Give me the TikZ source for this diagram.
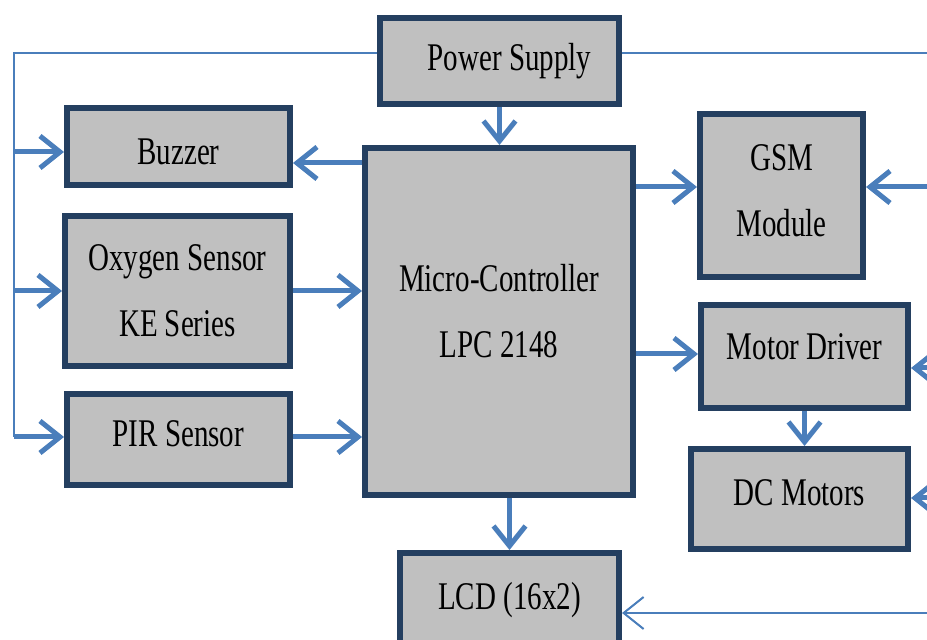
\documentclass[tikz,border=0pt]{standalone}
\usepackage{fontspec}
\setmainfont{Liberation Serif}[FakeStretch=0.74]
\usetikzlibrary{arrows.meta,calc}
\definecolor{Navy}{HTML}{243F60}
\definecolor{Panel}{HTML}{C0C0C0}
\definecolor{Wire}{HTML}{4A7EBB}
\tikzset{
  block/.style={draw=Navy,fill=Panel,line width=3pt,align=center,inner sep=0pt,
    font=\fontsize{19.6}{33}\selectfont},
  feed/.style={Wire,line width=2.5pt,->},
  rail/.style={Wire,line width=1pt},
}
\begin{document}
\begin{tikzpicture}[x=0.5pt,y=-0.5pt,>={Straight Barb[length=10pt,width=16pt]}]
  \useasboundingbox (0,0) rectangle (927,640);
  % blocks
  \node[block,minimum width=119.5pt,minimum height=43pt] (power) at (499.5,61) {\hspace{10pt}Power Supply};
  \node[block,minimum width=111.5pt,minimum height=38.5pt] (buzzer) at (178.5,146.5) {Buzzer\\[-38pt]};
  \node[block,minimum width=112.5pt,minimum height=75pt] (oxygen) at (177.5,291) {Oxygen Sensor\\KE Series};
  \node[block,minimum width=111.5pt,minimum height=45.5pt] (pir) at (178.5,439.5) {PIR Sensor\\[-27pt]};
  \node[block,minimum width=134pt,minimum height=173.5pt] (mcu) at (499,321.5) {Micro-Controller\\LPC 2148\\[-22pt]};
  \node[block,minimum width=81.5pt,minimum height=81.5pt] (gsm) at (781.5,195.5) {GSM\\Module\\[-28pt]};
  \node[block,minimum width=103.5pt,minimum height=51.5pt] (driver) at (804.5,356.5) {Motor Driver\\[-23.5pt]};
  \node[block,minimum width=108.5pt,minimum height=50pt] (motors) at (799.5,499) {DC Motors\\[-27pt]};
  \node[block,minimum width=109.5pt,minimum height=47pt] (lcd) at (509.5,600) {LCD (16x2)};
  % free ends
  \coordinate (busTop) at (14,53);
  \coordinate (busEnd) at (14,437);
  \coordinate (railRight) at (927,53);
  \coordinate (gsmIn) at (927,187);
  \coordinate (drvIn) at (927,368);
  \coordinate (motIn) at (927,498);
  \coordinate (lcdIn) at (927,613);
  % supply rails
  \draw[rail] (power.west |- busTop) -- (busTop) -- (busEnd);
  \draw[rail] (power.east |- railRight) -- (railRight);
  \draw[feed] (busTop |- 0,152) -- (buzzer.west |- 0,152);
  \draw[feed] (busTop |- oxygen.west) -- (oxygen.west);
  \draw[feed] (busEnd) -- (busEnd -| pir.west);
  % signals
  \draw[feed] (power.south) -- (power.south |- mcu.north);
  \draw[feed] (mcu.west |- 0,163) -- (buzzer.east |- 0,163);
  \draw[feed] (oxygen.east) -- (oxygen.east -| mcu.west);
  \draw[feed] (pir.east |- 0,437) -- (mcu.west |- 0,437);
  \draw[feed] (mcu.east |- 0,187) -- (gsm.west |- 0,187);
  \draw[feed] (gsmIn) -- (gsmIn -| gsm.east);
  \draw[feed] (mcu.east |- 0,354) -- (driver.west |- 0,354);
  \draw[feed] (drvIn) -- (drvIn -| driver.east);
  \draw[feed] (driver.south) -- (driver.south |- motors.north);
  \draw[feed] (motIn) -- (motIn -| motors.east);
  \draw[feed] (mcu.south -| lcd.north) -- (lcd.north);
  \draw[rail,->] (lcdIn) -- (lcdIn -| lcd.east);
\end{tikzpicture}
\end{document}
